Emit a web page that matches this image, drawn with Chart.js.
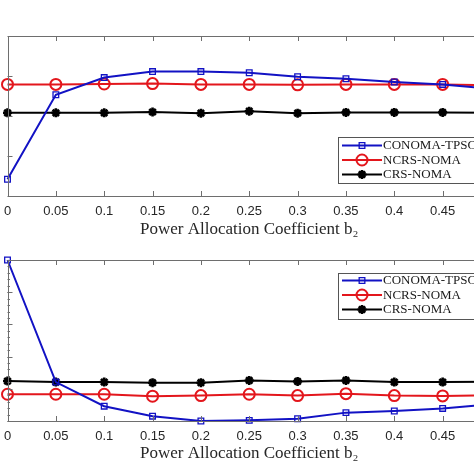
<!DOCTYPE html>
<html>
<head>
<meta charset="utf-8">
<script src="https://cdn.jsdelivr.net/npm/chart.js@4.4.1/dist/chart.umd.min.js"></script>
<style>
  html, body { margin: 0; padding: 0; background: #fff; width: 474px; height: 474px; overflow: hidden; }
  canvas { position: absolute; left: 0; }
  #chartTop { top: 0; }
  #chartBottom { top: 224px; }
</style>
</head>
<body>
<canvas id="chartTop" width="500" height="245"></canvas>
<canvas id="chartBottom" width="500" height="245"></canvas>
<script>
// power allocation coefficient b2
const b2 = [0, 0.05, 0.1, 0.15, 0.2, 0.25, 0.3, 0.35, 0.4, 0.45, 0.5];
const seriesNames = ['CONOMA-TPSC', 'NCRS-NOMA', 'CRS-NOMA'];

// upper panel (y labels are cut off in the source, values in tick units)
const topConoma = [0.42, 2.53, 2.96, 3.11, 3.11, 3.08, 2.98, 2.93, 2.85, 2.79, 2.68];
const topNcrs   = [2.79, 2.79, 2.80, 2.81, 2.79, 2.79, 2.78, 2.79, 2.79, 2.79, 2.77];
const topCrs    = [2.08, 2.08, 2.08, 2.10, 2.07, 2.12, 2.07, 2.09, 2.09, 2.09, 2.08];

// lower panel
const botConoma = [5.0, 1.21, 0.46, 0.15, 0.0, 0.02, 0.07, 0.26, 0.31, 0.39, 0.52];
const botNcrs   = [0.83, 0.83, 0.83, 0.77, 0.79, 0.83, 0.79, 0.85, 0.79, 0.78, 0.80];
const botCrs    = [1.24, 1.21, 1.21, 1.19, 1.19, 1.26, 1.23, 1.26, 1.21, 1.21, 1.22];

const xTitle = 'Power Allocation Coefficient b\u2082';

const styles = [
  { color: '#1212c4', pointStyle: 'rect', radius: 4, pointWidth: 1.3, fill: 'rgba(0,0,0,0)' },
  { color: '#e3161c', pointStyle: 'circle', radius: 5.5, pointWidth: 2, fill: 'rgba(0,0,0,0)' },
  { color: '#000000', pointStyle: 'star', radius: 4.5, pointWidth: 2.6, fill: '#000000' }
];

function makeSets(lists) {
  return lists.map((vals, i) => ({
    label: seriesNames[i],
    data: b2.map((x, j) => ({ x: x, y: vals[j] })),
    borderColor: styles[i].color,
    backgroundColor: styles[i].fill,
    borderWidth: 2,
    pointStyle: styles[i].pointStyle,
    pointRadius: styles[i].radius,
    pointBorderWidth: styles[i].pointWidth,
    pointBorderColor: styles[i].color,
    pointBackgroundColor: styles[i].fill,
    tension: 0,
    clip: false
  }));
}

// matlab style box, inward ticks and legend
const framePlugin = {
  id: 'frame',
  afterDatasetsDraw(chart, args, opts) {
    const ctx = chart.ctx;
    const a = chart.chartArea;
    const xs = chart.scales.x, ys = chart.scales.y;
    ctx.save();
    ctx.strokeStyle = '#6e6e6e';
    ctx.lineWidth = 1;
    ctx.strokeRect(Math.round(a.left) + 0.5, Math.round(a.top) + 0.5, Math.round(a.right - a.left), Math.round(a.bottom - a.top));
    ctx.beginPath();
    b2.forEach(v => {
      const px = Math.round(xs.getPixelForValue(v)) + 0.5;
      ctx.moveTo(px, a.bottom); ctx.lineTo(px, a.bottom - 5);
      ctx.moveTo(px, a.top); ctx.lineTo(px, a.top + 5);
    });
    for (let v = opts.yMin; v <= opts.yMax + 1e-9; v += opts.yStep) {
      const py = Math.round(ys.getPixelForValue(v)) + 0.5;
      ctx.moveTo(a.left, py); ctx.lineTo(a.left + 5, py);
      ctx.moveTo(a.right, py); ctx.lineTo(a.right - 5, py);
    }
    if (opts.yMinor) {
      for (let v = opts.yMin; v <= opts.yMax + 1e-9; v += opts.yMinor) {
        const py = Math.round(ys.getPixelForValue(v)) + 0.5;
        ctx.moveTo(a.left, py); ctx.lineTo(a.left + 2.5, py);
      }
    }
    ctx.stroke();

    // legend
    const L = opts.legend;
    ctx.fillStyle = '#ffffff';
    ctx.fillRect(L.x, L.y, L.w, L.h);
    ctx.strokeStyle = '#555555';
    ctx.strokeRect(L.x + 0.5, L.y + 0.5, L.w, L.h);
    chart.data.datasets.forEach((ds, i) => {
      const cy = L.y + L.first + i * L.row;
      ctx.strokeStyle = ds.borderColor;
      ctx.lineWidth = 2;
      ctx.beginPath();
      ctx.moveTo(L.x + 4, cy); ctx.lineTo(L.x + 44, cy);
      ctx.stroke();
      ctx.fillStyle = ds.pointBackgroundColor;
      ctx.lineWidth = ds.pointBorderWidth;
      Chart.helpers.drawPoint(ctx, { pointStyle: ds.pointStyle, radius: ds.pointRadius, rotation: 0, borderWidth: ds.pointBorderWidth }, L.x + 24, cy);
      ctx.fillStyle = '#1a1a1a';
      ctx.font = '13px "Liberation Serif", "DejaVu Serif", serif';
      ctx.textBaseline = 'middle';
      ctx.fillText(ds.label, L.x + 45, cy + 0.5);
    });
    ctx.restore();
  }
};

function makeChart(id, lists, yMax, areaBottom, frameOpts) {
  return new Chart(document.getElementById(id).getContext('2d'), {
    type: 'line',
    data: { datasets: makeSets(lists) },
    options: {
      responsive: false,
      animation: false,
      layout: { padding: { left: 5, right: 9, top: 36, bottom: 0 } },
      plugins: { legend: { display: false }, tooltip: { enabled: false }, frame: Object.assign({ yMin: 0, yMax: yMax, yStep: 1 }, frameOpts) },
      scales: {
        x: {
          type: 'linear', min: 0, max: 0.5,
          grid: { display: false, drawTicks: false },
          border: { display: false },
          ticks: {
            stepSize: 0.05, padding: 8, color: '#262626',
            font: { family: '"Liberation Sans", Arial, sans-serif', size: 13 },
            callback: v => String(+v.toFixed(2))
          },
          title: {
            display: true, text: xTitle, color: '#262626',
            font: { family: '"Liberation Serif", "DejaVu Serif", serif', size: 17 },
            padding: { top: 0, bottom: 5 }
          },
          afterFit: s => { s.height = 245 - areaBottom; s.paddingLeft = 0; s.paddingRight = 0; }
        },
        y: {
          min: 0, max: yMax,
          grid: { display: false, drawTicks: false },
          border: { display: false },
          ticks: { display: false, stepSize: 1 },
          afterFit: s => { s.width = 0; }
        }
      }
    },
    plugins: [framePlugin]
  });
}

makeChart('chartTop', [topConoma, topNcrs, topCrs], 4, 196, {
  legend: { x: 338, y: 137, w: 150, h: 46, first: 8.5, row: 14.5 }
});
makeChart('chartBottom', [botConoma, botNcrs, botCrs], 5, 197, {
  yMinor: 0.2,
  legend: { x: 338, y: 49, w: 150, h: 46, first: 7.5, row: 14.5 }
});
</script>
</body>
</html>
